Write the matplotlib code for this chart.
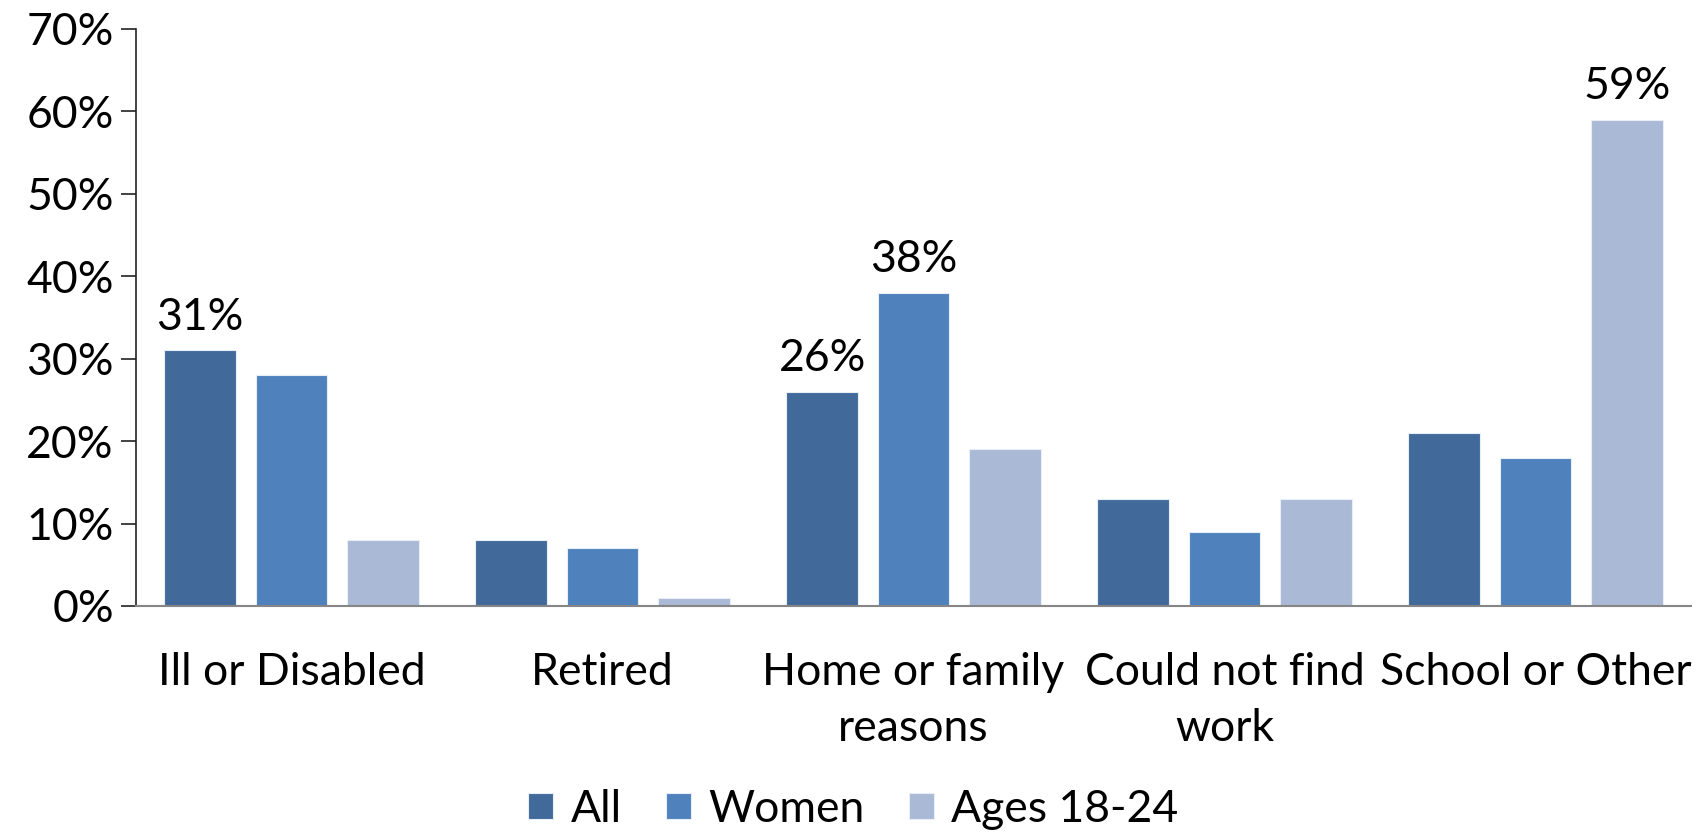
import numpy as np
import matplotlib.pyplot as plt

plt.rcParams['font.family'] = ['Lato', 'DejaVu Sans']

categories = ['Ill or Disabled', 'Retired', 'Home or family\nreasons',
              'Could not find\nwork', 'School or Other']
series_names = ['All', 'Women', 'Ages 18-24']
all_vals = [31, 8, 26, 13, 21]
women_vals = [28, 7, 38, 9, 18]
young_vals = [8, 1, 19, 13, 59]
colors = ['#416A9B', '#4F81BD', '#AAB9D6']

# which bars get a value label: (series index, category index)
labelled = [(0, 0), (0, 2), (1, 2), (2, 4)]

fig = plt.figure(figsize=(17.07, 8.35), dpi=100)
ax = fig.add_axes([0.0797, 0.2743, 0.911, 0.691])

x = np.arange(len(categories))
step = 0.294
width = 0.23
data = [all_vals, women_vals, young_vals]
bars = []
for i, vals in enumerate(data):
    b = ax.bar(x + (i - 1) * step, vals, width, color=colors[i],
               edgecolor='#E8EEF6', linewidth=0.8, label=series_names[i])
    bars.append(b)

fs = 32
for si, ci in labelled:
    r = bars[si][ci]
    ax.annotate(f'{data[si][ci]}%', (r.get_x() + r.get_width() / 2, r.get_height()),
                xytext=(0, 9), textcoords='offset points',
                ha='center', va='bottom', fontsize=fs)

ax.set_xlim(-0.5, len(categories) - 0.5)
ax.set_ylim(0, 70)
ax.set_yticks(range(0, 71, 10))
ax.set_yticklabels([f'{v}%' for v in range(0, 71, 10)])
ax.set_xticks(x)
ax.set_xticklabels(categories, linespacing=1.45)

ax.tick_params(axis='y', labelsize=fs, length=11, width=1.2, pad=5, color='#222222')
ax.tick_params(axis='x', labelsize=fs, length=0, pad=33)

for s in ['top', 'right']:
    ax.spines[s].set_visible(False)
ax.spines['left'].set_color('#222222')
ax.spines['left'].set_linewidth(1.2)
ax.spines['bottom'].set_color('#868686')
ax.spines['bottom'].set_linewidth(1.5)

fig.legend(loc='center', ncol=3, frameon=False, fontsize=fs,
           handlelength=0.55, handleheight=0.55, handletextpad=0.4,
           columnspacing=1.0, bbox_to_anchor=(0.5, 0.031))

fig.savefig('out.png', dpi=100)
